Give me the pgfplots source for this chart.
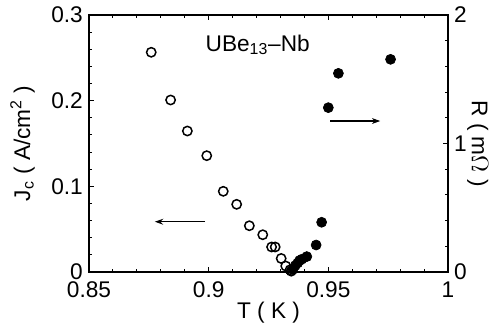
\documentclass[border=0pt]{standalone}
\usepackage{pgfplots}
\pgfplotsset{compat=1.18}
\usetikzlibrary{arrows.meta}
\usepackage{fontspec}
\setmainfont{Liberation Sans}
\newcommand\fs{\fontsize{13.6}{15}\selectfont}
\begin{document}
\fs
\begin{tikzpicture}[x=0.6pt,y=0.6pt]
\useasboundingbox (-89,-55) rectangle (411,272);
\pgfplotsset{every axis/.style={
  scale only axis, width=215.4pt, height=154.2pt,
  at={(0,0)}, anchor=south west,
  xmin=0.85, xmax=1,
  tick align=inside,
  major tick length=3.2pt, minor tick length=1.9pt,
  every tick/.style={black, line width=0.6pt},
  axis line style={line width=0.8pt},
  /pgf/number format/assume math mode=true,
  tick label style={font=\fs},
  label style={font=\fs},
}}
\begin{axis}[
  ymin=0, ymax=0.3,
  xtick={0.85,0.9,0.95,1}, minor x tick num=4,
  xticklabels={0.85,0.9,0.95,1},
  ytick={0,0.1,0.2,0.3}, minor y tick num=4,
  yticklabels={0,0.1,0.2,0.3},
  xtick pos=both, ytick pos=left,
  xlabel={T ( K )},
  ylabel={J\textsubscript{c} ( A/cm\textsuperscript{2} )},
  xlabel style={at={(axis description cs:0.5,-0.158)}, anchor=center},
  ylabel style={at={(axis description cs:-0.185,0.5)}, anchor=center, rotate=0},
  xticklabel style={yshift=-1pt},
  yticklabel style={xshift=1pt},
]
\addplot[only marks, mark=o, mark size=2.8pt, mark options={line width=0.9pt, fill=white}] coordinates {
(0.876,0.2565) (0.8841,0.2008) (0.8911,0.1646) (0.8992,0.1358)
(0.9061,0.0942) (0.9117,0.079) (0.917,0.054) (0.9226,0.0435)
(0.9263,0.0292) (0.9278,0.0292) (0.9303,0.0158) (0.9322,0.007)
(0.9340,0.0025) (0.9345,0.0010)
};
\draw[-{Stealth[length=5pt,width=3.5pt]}, line width=0.8pt] (axis cs:0.8985,0.0587) -- (axis cs:0.8775,0.0587);
\node[font=\fs] at (axis cs:0.9205,0.265) {UBe\textsubscript{13}--Nb};
\end{axis}
\begin{axis}[
  ymin=0, ymax=2,
  axis x line=none,
  axis y line*=right,
  ytick={0,1,2}, minor y tick num=4,
  yticklabels={0,1,2},
  ytick pos=right,
  ylabel={R ( m$\Omega$ )},
  ylabel style={at={(axis description cs:1.083,0.5)}, anchor=center, rotate=180},
  yticklabel style={xshift=-1pt},
]
\addplot[only marks, mark=*, mark size=3.0pt, mark options={black}] coordinates {
(0.9352,0.02) (0.9362,0.05) (0.9372,0.07) (0.938,0.09) (0.939,0.10)
(0.941,0.12) (0.9449,0.21) (0.9472,0.387) (0.95,1.279) (0.9542,1.546) (0.976,1.655)
};
\draw[-{Stealth[length=5pt,width=3.5pt]}, line width=0.8pt] (axis cs:0.9508,1.175) -- (axis cs:0.9717,1.175);
\end{axis}
\end{tikzpicture}
\end{document}
